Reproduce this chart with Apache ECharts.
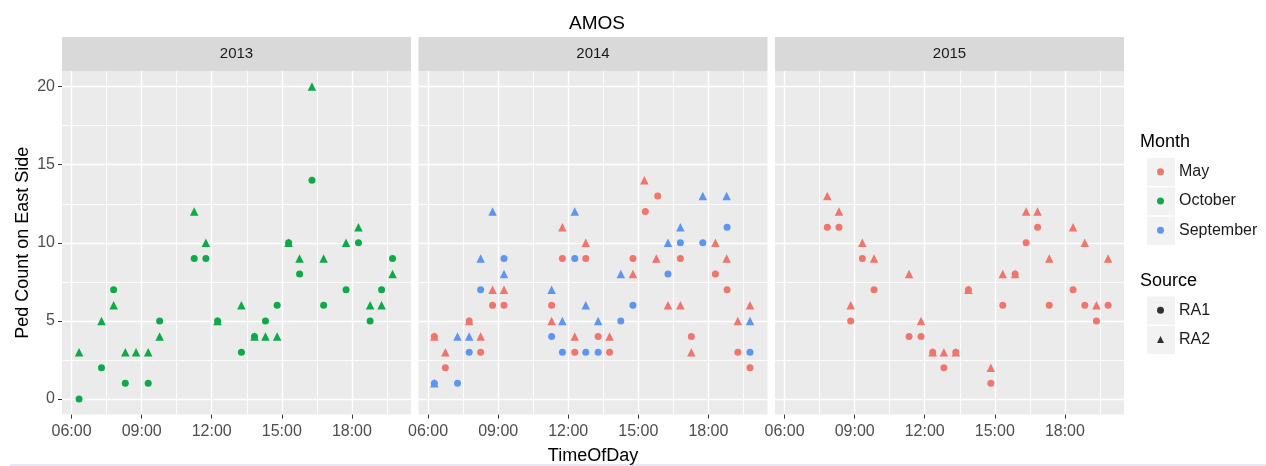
<!DOCTYPE html>
<html>
<head>
<meta charset="utf-8">
<script src="https://cdn.jsdelivr.net/npm/echarts@6/dist/echarts.min.js"></script>
<style>
  html, body { margin: 0; padding: 0; background: #fff; }
  #chart { width: 1266px; height: 466px; }
</style>
</head>
<body>
<div id="chart"></div>
<script>
// facet panels (years)
var years = ['2013', '2014', '2015'];
var months = ['May', 'October', 'September'];
var sources = ['RA1', 'RA2'];

// [hour of day, ped count]
var oct2013RA1 = [[6.32,0],[7.28,2],[7.8,7],[8.3,1],[9.28,1],[9.77,5],[11.25,9],[11.75,9],[12.25,5],[13.27,3],[13.83,4],[14.3,5],[14.8,6],[15.29,10],[15.76,8],[16.29,14],[16.79,6],[17.75,7],[18.28,10],[18.78,5],[19.27,7],[19.74,9]];
var oct2013RA2 = [[6.32,3],[7.28,5],[7.8,6],[8.3,3],[8.76,3],[9.28,3],[9.77,4],[11.25,12],[11.75,10],[12.25,5],[13.27,6],[13.83,4],[14.3,4],[14.8,4],[15.29,10],[15.76,9],[16.29,20],[16.79,9],[17.75,10],[18.28,11],[18.78,6],[19.27,6],[19.74,8]];

var may2014RA1 = [[6.27,4],[6.74,2],[7.76,5],[8.25,3],[8.76,6],[9.25,6],[11.29,6],[11.75,9],[12.28,3],[12.75,9],[13.28,4],[13.77,3],[14.77,9],[15.3,12],[15.83,13],[16.8,9],[17.27,4],[18.3,8],[18.8,7],[19.26,3],[19.78,2]];
var may2014RA2 = [[6.27,4],[6.74,3],[7.76,5],[8.25,4],[8.76,7],[9.25,7],[11.29,5],[11.75,11],[12.28,4],[12.75,10],[13.77,4],[14.77,8],[15.26,14],[15.77,9],[16.27,6],[16.8,6],[17.27,3],[18.3,10],[18.78,9],[19.26,5],[19.78,6]];
var sep2014RA1 = [[6.27,1],[7.26,1],[7.76,3],[8.25,7],[9.25,9],[11.29,4],[11.75,3],[12.28,9],[12.75,3],[13.28,3],[14.25,5],[14.77,6],[16.27,8],[16.8,10],[17.76,10],[18.8,11],[19.78,3]];
var sep2014RA2 = [[6.27,1],[7.26,4],[7.76,4],[8.25,9],[8.76,12],[9.25,8],[11.29,7],[11.75,5],[12.28,12],[12.75,6],[13.28,5],[14.25,8],[16.27,10],[16.8,11],[17.76,13],[18.78,13],[19.78,5]];

var may2015RA1 = [[7.83,11],[8.33,11],[8.83,5],[9.33,9],[9.83,7],[11.33,4],[11.84,4],[12.34,3],[12.82,2],[13.33,3],[13.87,7],[14.83,1],[15.34,6],[15.87,8],[16.34,10],[16.83,11],[17.33,6],[18.35,7],[18.85,6],[19.35,5],[19.85,6]];
var may2015RA2 = [[7.83,13],[8.33,12],[8.83,6],[9.33,10],[9.83,9],[11.33,8],[11.84,5],[12.34,3],[12.82,3],[13.33,3],[13.87,7],[14.83,2],[15.34,8],[15.87,8],[16.34,12],[16.83,12],[17.33,9],[18.35,11],[18.85,10],[19.35,6],[19.85,9]];

// axis ticks
var majorHours = [6, 9, 12, 15, 18];
var minorHours = [7.5, 10.5, 13.5, 16.5, 19.5];
var majorCounts = [0, 5, 10, 15, 20];
var minorCounts = [2.5, 7.5, 12.5, 17.5];

var monthColors = { May: '#F0756D', October: '#0DAA47', September: '#5E95F2' };
var sourceSymbols = { RA1: 'circle', RA2: 'triangle' };

var FONT = "'Liberation Sans', Arial, sans-serif";
var panelLeft = [62, 418.5, 775];
var panelW = 349, panelTop = 71, panelH = 343.6;
var xMin = 5.59, xMax = 20.53, yMin = -1, yMax = 21;

var panelData = [
  [['October', 'RA1', oct2013RA1], ['October', 'RA2', oct2013RA2]],
  [['May', 'RA1', may2014RA1], ['May', 'RA2', may2014RA2], ['September', 'RA1', sep2014RA1], ['September', 'RA2', sep2014RA2]],
  [['May', 'RA1', may2015RA1], ['May', 'RA2', may2015RA2]]
];

function hhmm(v) {
  var h = Math.round(v);
  return (h < 10 ? '0' : '') + h + ':00';
}

var grids = [], xAxes = [], yAxes = [], series = [], graphics = [];
var minorX = [], minorY = [];

years.forEach(function (yr, i) {
  grids.push({
    left: panelLeft[i], top: panelTop, width: panelW, height: panelH,
    show: true, backgroundColor: '#EBEBEB', borderWidth: 0,
    containLabel: false, outerBoundsMode: 'none'
  });
  xAxes.push({
    gridIndex: i, type: 'value', min: xMin, max: xMax, position: 'bottom',
    axisLine: { show: false, onZero: false },
    axisTick: { show: true, length: 4, customValues: majorHours, lineStyle: { color: '#333', width: 1 } },
    axisLabel: { customValues: majorHours, formatter: hhmm, color: '#4D4D4D', fontSize: 16, margin: 9, fontFamily: FONT },
    splitLine: { show: true, lineStyle: { color: '#FFFFFF', width: 1.4 } },
    name: i === 1 ? 'TimeOfDay' : '',
    nameLocation: 'middle', nameGap: 32,
    nameTextStyle: { fontSize: 18, color: '#000', fontFamily: FONT }
  });
  yAxes.push({
    gridIndex: i, type: 'value', min: yMin, max: yMax, position: 'left',
    axisLine: { show: false, onZero: false },
    axisTick: { show: i === 0, length: 4, customValues: majorCounts, lineStyle: { color: '#333', width: 1 } },
    axisLabel: { show: i === 0, customValues: majorCounts, color: '#4D4D4D', fontSize: 16, margin: 7, fontFamily: FONT },
    splitLine: { show: true, lineStyle: { color: '#FFFFFF', width: 1.4 } },
    name: i === 0 ? 'Ped Count on East Side' : '',
    nameLocation: 'middle', nameGap: 30, nameRotate: 90,
    nameTextStyle: { fontSize: 18, color: '#000', fontFamily: FONT }
  });
  // helper axes that only draw the thin minor grid lines
  minorX.push({
    gridIndex: i, type: 'value', min: xMin, max: xMax, position: 'top',
    axisLine: { show: false, onZero: false }, axisLabel: { show: false },
    axisTick: { show: false, customValues: minorHours },
    splitLine: { show: true, lineStyle: { color: '#FFFFFF', width: 1, opacity: 0.85 } }
  });
  minorY.push({
    gridIndex: i, type: 'value', min: yMin, max: yMax, position: 'right',
    axisLine: { show: false, onZero: false }, axisLabel: { show: false },
    axisTick: { show: false, customValues: minorCounts },
    splitLine: { show: true, lineStyle: { color: '#FFFFFF', width: 1, opacity: 0.85 } }
  });

  panelData[i].forEach(function (d) {
    series.push({
      name: d[0], type: 'scatter', xAxisIndex: i, yAxisIndex: i,
      symbol: sourceSymbols[d[1]], symbolSize: d[1] === 'RA1' ? 7 : 8.5,
      itemStyle: { color: monthColors[d[0]], opacity: 1 },
      data: d[2], z: 3
    });
  });

  // facet strip
  graphics.push({
    type: 'rect', left: panelLeft[i], top: 37, silent: true,
    shape: { width: panelW, height: 34 }, style: { fill: '#D9D9D9' }
  });
  graphics.push({
    type: 'text', x: panelLeft[i] + panelW / 2, y: 54, silent: true,
    style: { text: yr, fill: '#1A1A1A', font: '15px ' + FONT, textAlign: 'center', textVerticalAlign: 'middle' }
  });
});

// dummy series for the Source legend
sources.forEach(function (s) {
  series.push({ name: s, type: 'scatter', symbol: sourceSymbols[s], itemStyle: { color: '#000' }, data: [], xAxisIndex: 0, yAxisIndex: 0 });
});

// legend keys
var keyTops = [157, 186.3, 215.6, 295.5, 324.8];
keyTops.forEach(function (t) {
  graphics.push({
    type: 'rect', left: 1146, top: t, silent: true, z: -1,
    shape: { width: 29, height: 29.3 }, style: { fill: '#F2F2F2', stroke: '#FFFFFF', lineWidth: 1 }
  });
});
graphics.push({ type: 'text', x: 1140, y: 142, silent: true,
  style: { text: 'Month', fill: '#000', font: '18px ' + FONT, textVerticalAlign: 'middle' } });
graphics.push({ type: 'text', x: 1140, y: 281, silent: true,
  style: { text: 'Source', fill: '#000', font: '18px ' + FONT, textVerticalAlign: 'middle' } });
graphics.push({ type: 'rect', left: 10, top: 464, silent: true,
  shape: { width: 1256, height: 2 }, style: { fill: '#E6EAF0' } });

var legendCommon = {
  orient: 'vertical', left: 1157, padding: 0, itemGap: 0, itemWidth: 7, itemHeight: 7,
  selectedMode: false,
  textStyle: { fontSize: 16, color: '#1A1A1A', lineHeight: 29.3, padding: [0, 0, 0, 10], fontFamily: FONT }
};

var option = {
  animation: false,
  backgroundColor: '#FFFFFF',
  textStyle: { fontFamily: FONT },
  title: {
    text: 'AMOS', left: 592, top: 9, textAlign: 'center',
    textStyle: { fontSize: 19, fontWeight: 'normal', color: '#000', fontFamily: FONT }
  },
  grid: grids,
  xAxis: xAxes.concat(minorX),
  yAxis: yAxes.concat(minorY),
  legend: [
    Object.assign({}, legendCommon, {
      top: 157,
      data: months.map(function (m) { return { name: m, icon: 'circle' }; })
    }),
    Object.assign({}, legendCommon, {
      top: 295.5,
      data: sources.map(function (s) { return { name: s, icon: sourceSymbols[s] }; })
    })
  ],
  graphic: graphics,
  series: series
};

var chart = echarts.init(document.getElementById('chart'));
chart.setOption(option);
</script>
</body>
</html>
